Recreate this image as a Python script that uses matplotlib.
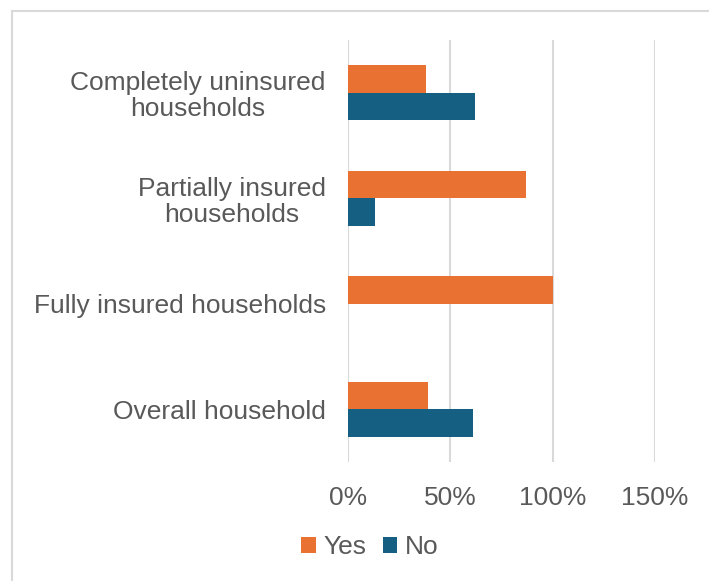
import matplotlib.pyplot as plt
import matplotlib.patches as mpatches
import numpy as np

plt.rcParams['font.family'] = ['Liberation Sans', 'DejaVu Sans']

# Data (share of households)
categories = ['Completely uninsured\nhouseholds', 'Partially insured\nhouseholds',
              'Fully insured households', 'Overall household']
yes_vals = [0.38, 0.87, 1.00, 0.39]
no_vals = [0.62, 0.13, 0.00, 0.61]
xticks = [0, 0.5, 1.0, 1.5]
xtick_labels = ['0%', '50%', '100%', '150%']

yes_color = '#E97132'
no_color = '#156082'
text_color = '#595959'
fs = 19

fig = plt.figure(figsize=(7.09, 5.81), dpi=100)
ax = fig.add_axes([348 / 709, 1 - 462 / 581, 307 / 709, 422 / 581])

# frame around the chart area (only top and left edges visible)
fig.patches.append(mpatches.Rectangle((12 / 709, -0.1), 1.2, 1 - 11 / 581 + 0.1,
                                      transform=fig.transFigure, fill=False,
                                      edgecolor='#D9D9D9', linewidth=1.5))

y = np.arange(len(categories))
h = 0.26
ax.barh(y - h / 2, yes_vals, height=h, color=yes_color, label='Yes', zorder=3)
ax.barh(y + h / 2, no_vals, height=h, color=no_color, label='No', zorder=3)

ax.set_ylim(len(categories) - 0.5, -0.5)
ax.set_yticks(y)
ax.set_yticklabels(categories, fontsize=fs, color=text_color, linespacing=1.1,
                   multialignment='center')
ax.set_xlim(0, 1.5)
ax.set_xticks(xticks)
ax.set_xticklabels(xtick_labels, fontsize=fs, color=text_color)
ax.tick_params(axis='both', length=0)
ax.tick_params(axis='y', pad=16)
ax.tick_params(axis='x', pad=17)

ax.grid(axis='x', color='#D9D9D9', linewidth=1.5, zorder=0)
for s in ax.spines.values():
    s.set_visible(False)

fig.legend(loc='center', bbox_to_anchor=(370 / 709, 1 - 547 / 581), ncol=2,
           frameon=False, fontsize=fs, labelcolor=text_color,
           handlelength=0.55, handleheight=0.55, handletextpad=0.3, columnspacing=0.6)

fig.savefig('out.png', dpi=100)
